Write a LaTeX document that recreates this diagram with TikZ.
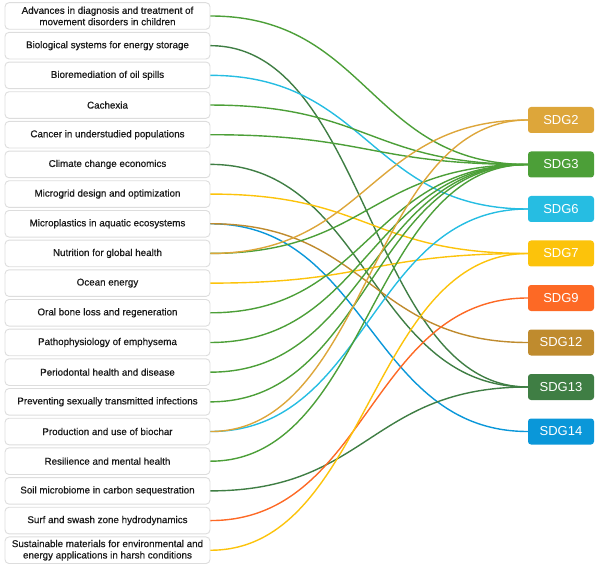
\documentclass[tikz,border=0pt]{standalone}
\usepackage{fontspec}
\setmainfont{Liberation Sans}
\newfontfamily\lboxfont[FakeBold=0.6]{Liberation Sans}
\definecolor{sdgii}{HTML}{DDA63A}
\definecolor{sdgiii}{HTML}{4C9F38}
\definecolor{sdgvi}{HTML}{26BDE2}
\definecolor{sdgvii}{HTML}{FCC30B}
\definecolor{sdgix}{HTML}{FD6925}
\definecolor{sdgxii}{HTML}{BF8B2E}
\definecolor{sdgxiii}{HTML}{3F7E44}
\definecolor{sdgxiv}{HTML}{0A97D9}
\definecolor{txtdark}{HTML}{1A1A1A}
\definecolor{boxline}{HTML}{DDDDDD}
\begin{document}
\begin{tikzpicture}[x=1pt,y=-1pt,
  lbox/.style={draw=boxline, line width=0.9pt, fill=white, rounded corners=4pt,
    minimum width=205pt, minimum height=26.6pt, inner sep=0pt, align=center,
    text=txtdark, font=\lboxfont\fontsize{9.8}{11.4}\selectfont},
  rbox/.style={rounded corners=3pt, minimum width=66pt, minimum height=26pt,
    inner sep=0pt, text=white, font=\fontsize{13}{15}\selectfont},
  link/.style={line width=1.4pt}]
\useasboundingbox (0,0) rectangle (602,569);
% left boxes
\foreach \i/\t in {1/{Advances in diagnosis and treatment of\\movement disorders in children},
  2/{Biological systems for energy storage},
  3/{Bioremediation of oil spills},
  4/{Cachexia},
  5/{Cancer in understudied populations},
  6/{Climate change economics},
  7/{Microgrid design and optimization},
  8/{Microplastics in aquatic ecosystems},
  9/{Nutrition for global health},
  10/{Ocean energy},
  11/{Oral bone loss and regeneration},
  12/{Pathophysiology of emphysema},
  13/{Periodontal health and disease},
  14/{Preventing sexually transmitted infections},
  15/{Production and use of biochar},
  16/{Resilience and mental health},
  17/{Soil microbiome in carbon sequestration},
  18/{Surf and swash zone hydrodynamics},
  19/{Sustainable materials for environmental and\\energy applications in harsh conditions}}
  \node[lbox] (L\i) at (107.5,{16+29.68*(\i-1)}) {\t};
% right boxes
\node[rbox, fill=sdgii]   (S2)  at (561,120)   {SDG2};
\node[rbox, fill=sdgiii]  (S3)  at (561,164.5) {SDG3};
\node[rbox, fill=sdgvi]   (S6)  at (561,209)   {SDG6};
\node[rbox, fill=sdgvii]  (S7)  at (561,253.5) {SDG7};
\node[rbox, fill=sdgix]   (S9)  at (561,298)   {SDG9};
\node[rbox, fill=sdgxii]  (S12) at (561,342.5) {SDG12};
\node[rbox, fill=sdgxiii] (S13) at (561,387)   {SDG13};
\node[rbox, fill=sdgxiv]  (S14) at (561,431.5) {SDG14};
% links
\foreach \a/\b/\c in {1/3/sdgiii, 2/13/sdgxiii, 3/6/sdgvi, 4/3/sdgiii, 5/3/sdgiii,
  6/13/sdgxiii, 7/7/sdgvii, 8/14/sdgxiv, 8/12/sdgxii, 9/3/sdgiii, 9/2/sdgii,
  10/7/sdgvii, 11/3/sdgiii, 12/3/sdgiii, 13/3/sdgiii, 14/3/sdgiii,
  15/6/sdgvi, 15/2/sdgii, 16/3/sdgiii, 17/13/sdgxiii, 18/9/sdgix, 19/7/sdgvii}
  \draw[link, draw=\c] (L\a.east) .. controls +(158,0) and +(-158,0) .. (S\b.west);
\end{tikzpicture}
\end{document}
